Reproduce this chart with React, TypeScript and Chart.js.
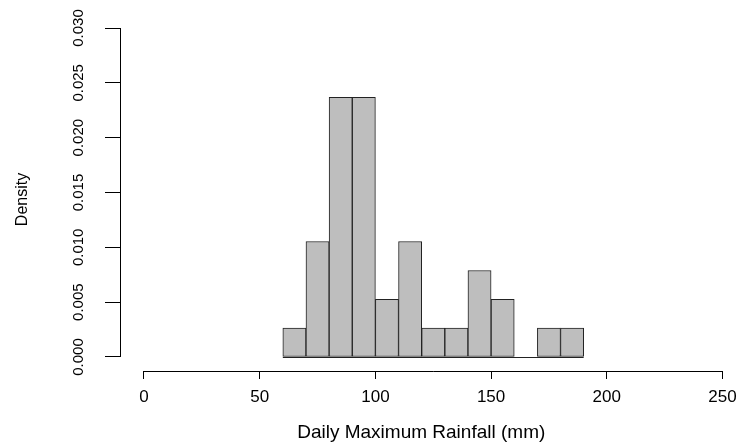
import React, { useEffect, useRef } from "react";
import { Chart, registerables } from "chart.js";

Chart.register(...registerables);

// Histogram bins (mm) and densities
const binStarts = [60, 70, 80, 90, 100, 110, 120, 130, 140, 150, 160, 170, 180];
const binWidth = 10;
const densities = [
  0.00263, 0.01053, 0.02368, 0.02368, 0.00526, 0.01053, 0.00263, 0.00263,
  0.00789, 0.00526, 0, 0.00263, 0.00263,
];
const xTicks = [0, 50, 100, 150, 200, 250];
const yTicks = [0, 0.005, 0.01, 0.015, 0.02, 0.025, 0.03];
const xTitle = "Daily Maximum Rainfall (mm)";
const yTitle = "Density";

const FONT = "'Liberation Sans', Arial, Helvetica, sans-serif";

const rAxesPlugin = {
  id: "rAxes",
  beforeDatasetsDraw(chart: any) {
    const { ctx } = chart;
    const xs = chart.scales.x;
    const ys = chart.scales.y;
    const y0 = Math.round(ys.getPixelForValue(0)) + 0.5;
    ctx.save();
    ctx.strokeStyle = "#222";
    ctx.lineWidth = 1;
    ctx.beginPath();
    ctx.moveTo(xs.getPixelForValue(binStarts[0]), y0);
    ctx.lineTo(xs.getPixelForValue(binStarts[binStarts.length - 1] + binWidth), y0);
    ctx.stroke();
    ctx.restore();
  },
  afterDraw(chart: any) {
    const { ctx, chartArea } = chart;
    const xs = chart.scales.x;
    const ys = chart.scales.y;
    ctx.save();
    ctx.strokeStyle = "#000";
    ctx.lineWidth = 1;
    const ax = Math.round(chartArea.left) + 0.5;
    ctx.beginPath();
    ctx.moveTo(ax, ys.getPixelForValue(yTicks[0]));
    ctx.lineTo(ax, ys.getPixelForValue(yTicks[yTicks.length - 1]));
    ctx.stroke();
    const ay = Math.round(chartArea.bottom) + 0.5;
    ctx.beginPath();
    ctx.moveTo(xs.getPixelForValue(xTicks[0]), ay);
    ctx.lineTo(xs.getPixelForValue(xTicks[xTicks.length - 1]), ay);
    ctx.stroke();
    ctx.restore();
  },
};

export default function App() {
  const canvasRef = useRef<HTMLCanvasElement | null>(null);

  useEffect(() => {
    document.body.style.margin = "0";
    const canvas = canvasRef.current;
    if (!canvas) return;
    const data = binStarts.map((s, i) => ({ x: s + binWidth / 2, y: densities[i] }));
    const chart = new Chart(canvas, {
      type: "bar",
      data: {
        datasets: [
          {
            data: data as any,
            backgroundColor: "#BEBEBE",
            borderColor: "#222",
            borderWidth: 1,
            borderSkipped: false,
            barPercentage: 1,
            categoryPercentage: 1,
          },
        ],
      },
      options: {
        animation: false,
        responsive: false,
        devicePixelRatio: 1,
        layout: { padding: { top: 28, right: 17.5, left: 0, bottom: 0 } },
        plugins: {
          legend: { display: false },
          tooltip: { enabled: false },
        },
        scales: {
          x: {
            type: "linear",
            offset: false,
            min: -10.37,
            max: 250,
            afterBuildTicks: (scale: any) => {
              scale.ticks = xTicks.map((v) => ({ value: v }));
            },
            afterFit: (scale: any) => {
              scale.height = 73;
            },
            border: { display: false },
            grid: {
              display: true,
              offset: false,
              drawOnChartArea: false,
              drawTicks: true,
              tickLength: 8,
              tickColor: "#000",
              lineWidth: 1,
            },
            ticks: {
              autoSkip: false,
              maxRotation: 0,
              minRotation: 0,
              padding: 3,
              color: "#000",
              font: { family: FONT, size: 17, lineHeight: 1.8 },
              callback: (v: any) => String(v),
            },
            title: {
              display: true,
              text: xTitle,
              color: "#000",
              font: { family: FONT, size: 19 },
              padding: { top: 0, bottom: 0 },
            },
          },
          y: {
            type: "linear",
            min: -0.001277,
            max: 0.03,
            afterBuildTicks: (scale: any) => {
              scale.ticks = yTicks.map((v) => ({ value: v }));
            },
            afterFit: (scale: any) => {
              scale.width = 120;
            },
            border: { display: false },
            grid: {
              display: true,
              drawOnChartArea: false,
              drawTicks: true,
              tickLength: 15,
              tickColor: "#000",
              lineWidth: 1,
            },
            ticks: {
              autoSkip: false,
              minRotation: 90,
              maxRotation: 90,
              crossAlign: "center",
              padding: 7,
              color: "#000",
              font: { family: FONT, size: 15 },
              callback: (v: any) => Number(v).toFixed(3),
            },
            title: {
              display: true,
              text: yTitle,
              color: "#000",
              font: { family: FONT, size: 16 },
              padding: { top: 13, bottom: 0 },
            },
          },
        },
      },
      plugins: [rAxesPlugin],
    });
    return () => chart.destroy();
  }, []);

  return (
    <div style={{ width: 740, height: 444, background: "#fff" }}>
      <canvas ref={canvasRef} width={740} height={444} style={{ display: "block" }} />
    </div>
  );
}
